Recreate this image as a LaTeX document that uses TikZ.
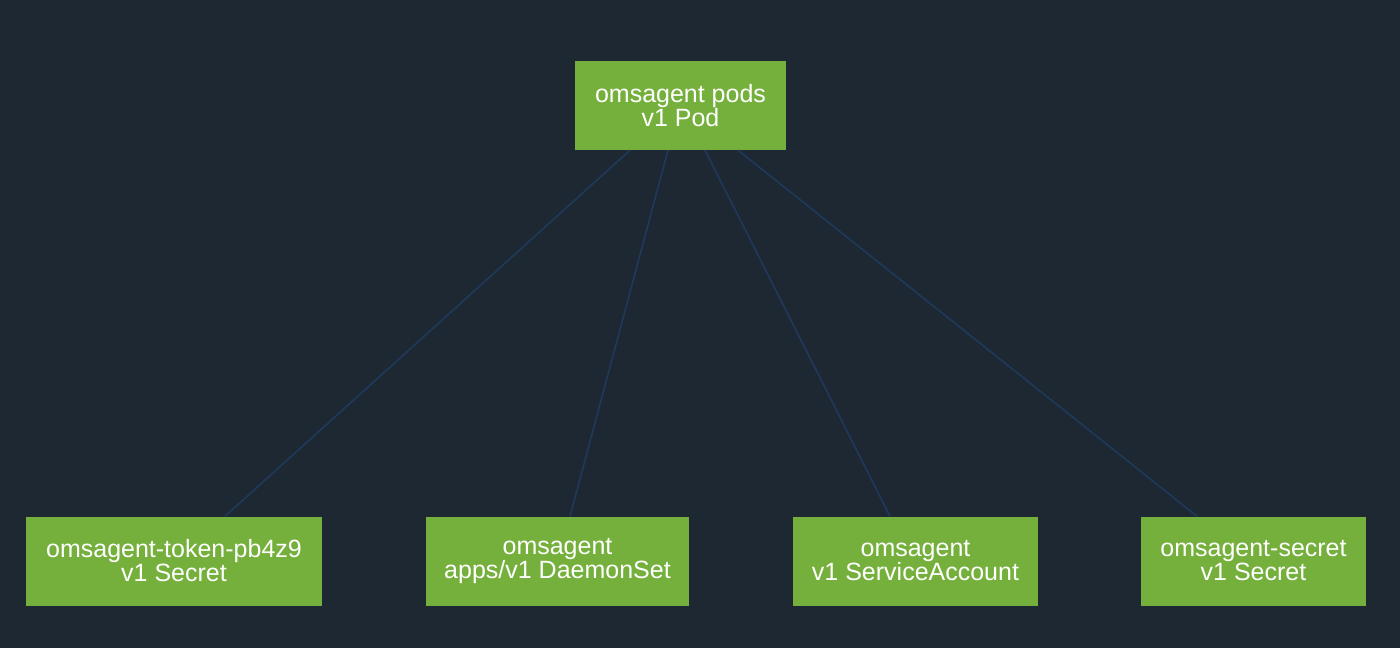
\documentclass[tikz,border=0pt]{standalone}
\usepackage{fontspec}
\setmainfont{Liberation Sans}
\definecolor{bg}{HTML}{1E2832}
\definecolor{boxgreen}{HTML}{74B03B}
\definecolor{edgeblue}{HTML}{1E3A5E}
\begin{document}
\begin{tikzpicture}[x=1pt,y=-1pt,
  res/.style={rectangle, fill=boxgreen, draw=none, text=white, align=center,
    inner sep=0pt, minimum height=89pt, font=\fontsize{25}{24}\selectfont},
  link/.style={draw=edgeblue, line width=1.5pt}]
\fill[bg] (0,0) rectangle (1400,648);
\useasboundingbox (0,0) rectangle (1400,648);
\node[res, minimum width=211pt] (pod) at (680.5,105.5) {omsagent pods\\v1 Pod};
\node[res, minimum width=296pt] (b1) at (174,561) {omsagent-token-pb4z9\\v1 Secret};
\node[res, minimum width=263pt] (b2) at (557.5,561) {omsagent\\apps/v1 DaemonSet};
\node[res, minimum width=245pt] (b3) at (915.5,561) {omsagent\\v1 ServiceAccount};
\node[res, minimum width=225pt] (b4) at (1253.5,561) {omsagent-secret\\v1 Secret};
\draw[link] ([xshift=-50.5pt]pod.south) -- ([xshift=51pt]b1.north);
\draw[link] ([xshift=-12.5pt]pod.south) -- ([xshift=12.5pt]b2.north);
\draw[link] ([xshift=24.5pt]pod.south) -- ([xshift=-25.5pt]b3.north);
\draw[link] ([xshift=57.5pt]pod.south) -- ([xshift=-56.5pt]b4.north);
\end{tikzpicture}
\end{document}
